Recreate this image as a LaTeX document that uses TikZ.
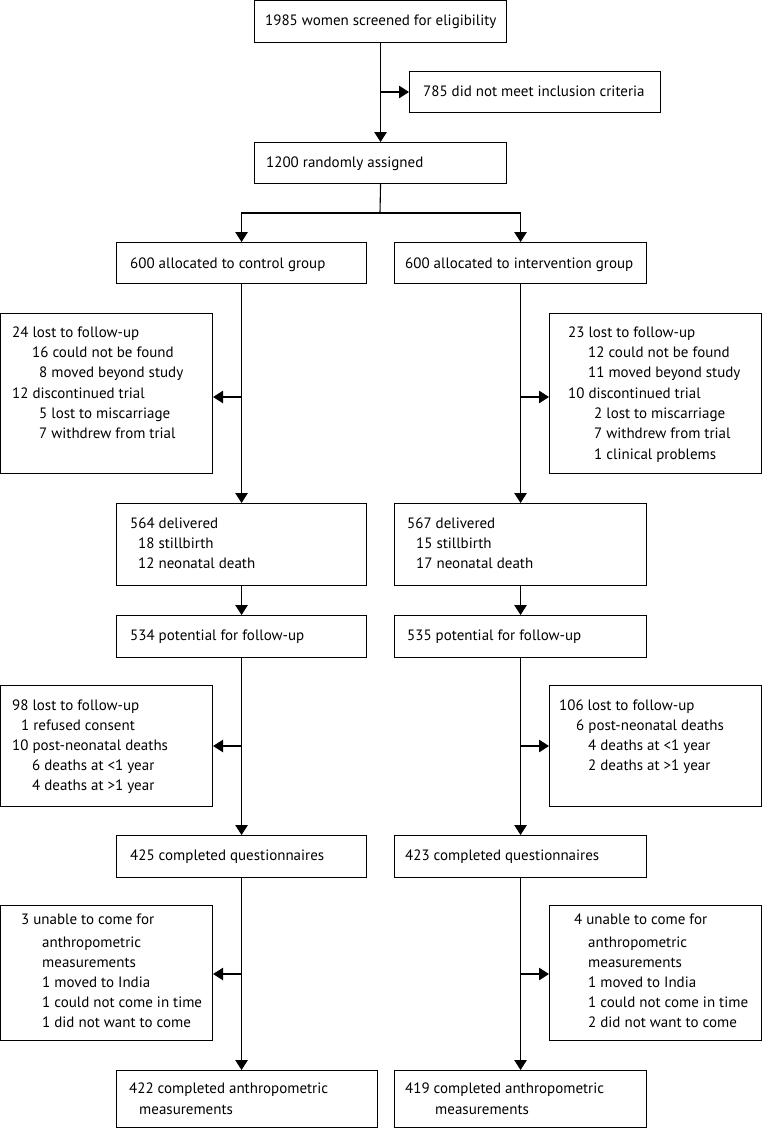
\documentclass[tikz,border=0pt]{standalone}
\usepackage{fontspec}
\setmainfont{PT Sans}
\usetikzlibrary{arrows.meta}
\newcommand\bx[5]{\node[box,minimum width={(#4-#2)*1pt},minimum height={(#5-#3)*1pt}] (#1) at (#2,#3) {};}
\newcommand\tl[4]{\node[txt] (#1) at (#2,#3+4.5) {#4};}
\begin{document}
\begin{tikzpicture}[x=1pt,y=-1pt,
 box/.style={draw,line width=1.1pt,inner sep=0pt,anchor=north west},
 txt/.style={anchor=base west,inner sep=0pt,font=\fontsize{15}{20}\selectfont},
 arr/.style={line width=1.1pt,-{Triangle[width=12.5pt,length=10pt]}},
 ln/.style={line width=1.1pt}]
\useasboundingbox (0,0) rectangle (761,1128);
% boxes
\bx{screen}{254}{0}{506}{42}
\bx{excl}{409}{71}{660}{112}
\bx{rand}{254}{142}{506}{183}
\bx{ctrl}{116}{242}{366}{283}
\bx{intv}{394}{242}{646}{283}
\bx{lossL}{0}{313}{212}{473}
\bx{lossR}{549}{313}{761}{473}
\bx{delL}{116}{503}{366}{585}
\bx{delR}{394}{503}{646}{585}
\bx{potL}{116}{615}{366}{657}
\bx{potR}{394}{615}{646}{657}
\bx{lfL}{0}{685}{212}{806}
\bx{lfR}{549}{685}{761}{806}
\bx{qL}{116}{835}{366}{877}
\bx{qR}{394}{835}{646}{877}
\bx{unL}{0}{905}{212}{1040}
\bx{unR}{549}{905}{761}{1040}
\bx{anL}{116}{1070}{377}{1127}
\bx{anR}{394}{1070}{646}{1127}
% texts
\tl{t1}{265}{21}{1985 women screened for eligibility}
\tl{t2}{423}{92}{785 did not meet inclusion criteria}
\tl{t3}{266}{163}{1200 randomly assigned}
\tl{t4}{130}{264}{600 allocated to control group}
\tl{t5}{405}{264}{600 allocated to intervention group}
\tl{t6a}{12}{333}{24 lost to follow-up}
\tl{t6b}{32}{353}{16 could not be found}
\tl{t6c}{39}{373}{8 moved beyond study}
\tl{t6d}{12}{394}{12 discontinued trial}
\tl{t6e}{39}{414}{5 lost to miscarriage}
\tl{t6f}{39}{434}{7 withdrew from trial}
\tl{t7a}{568}{333}{23 lost to follow-up}
\tl{t7b}{588}{353}{12 could not be found}
\tl{t7c}{588}{373}{11 moved beyond study}
\tl{t7d}{568}{394}{10 discontinued trial}
\tl{t7e}{594}{414}{2 lost to miscarriage}
\tl{t7f}{594}{434}{7 withdrew from trial}
\tl{t7g}{594}{455}{1 clinical problems}
\tl{t8a}{130}{524}{564 delivered}
\tl{t8b}{138}{544}{18 stillbirth}
\tl{t8c}{138}{564}{12 neonatal death}
\tl{t9a}{407}{524}{567 delivered}
\tl{t9b}{416}{544}{15 stillbirth}
\tl{t9c}{416}{564}{17 neonatal death}
\tl{t10}{130}{636}{534 potential for follow-up}
\tl{t11}{407}{636}{535 potential for follow-up}
\tl{t12a}{12}{706}{98 lost to follow-up}
\tl{t12b}{21}{726}{1 refused consent}
\tl{t12c}{12}{746}{10 post-neonatal deaths}
\tl{t12d}{32}{766}{6 deaths at <1 year}
\tl{t12e}{32}{786}{4 deaths at >1 year}
\tl{t13a}{559}{706}{106 lost to follow-up}
\tl{t13b}{576}{726}{6 post-neonatal deaths}
\tl{t13c}{588}{746}{4 deaths at <1 year}
\tl{t13d}{588}{766}{2 deaths at >1 year}
\tl{t14}{130}{856}{425 completed questionnaires}
\tl{t15}{405}{856}{423 completed questionnaires}
\tl{t16a}{21}{920}{3 unable to come for}
\tl{t16b}{42}{943}{anthropometric}
\tl{t16c}{42}{963}{measurements}
\tl{t16d}{42}{983}{1 moved to India}
\tl{t16e}{42}{1003}{1 could not come in time}
\tl{t16f}{42}{1023}{1 did not want to come}
\tl{t17a}{574}{920}{4 unable to come for}
\tl{t17b}{588}{943}{anthropometric}
\tl{t17c}{588}{963}{measurements}
\tl{t17d}{588}{983}{1 moved to India}
\tl{t17e}{588}{1003}{1 could not come in time}
\tl{t17f}{588}{1023}{2 did not want to come}
\tl{t18a}{129}{1089}{422 completed anthropometric}
\tl{t18b}{139}{1110}{measurements}
\tl{t19a}{405}{1089}{419 completed anthropometric}
\tl{t19b}{435}{1110}{measurements}
% connectors
\coordinate (j0) at (380,92);
\coordinate (split) at (380,213);
\coordinate (jL1) at (241,397);
\coordinate (jR1) at (520,397);
\coordinate (jL2) at (241,746);
\coordinate (jR2) at (520,746);
\coordinate (jL3) at (241,974);
\coordinate (jR3) at (520,974);
\draw[arr] (screen.south) -- (rand.north);
\draw[arr] (j0) -- (excl.west |- j0);
\draw[ln] (rand.south) -- (split);
\draw[arr] (split) -| (ctrl.north);
\draw[arr] (split) -| (intv.north);
\draw[arr] (ctrl.south) -- (delL.north);
\draw[arr] (intv.south) -- (delR.north);
\draw[arr] (jL1) -- (lossL.east |- jL1);
\draw[arr] (jR1) -- (lossR.west |- jR1);
\draw[arr] (delL.south) -- (potL.north);
\draw[arr] (delR.south) -- (potR.north);
\draw[arr] (potL.south) -- (qL.north);
\draw[arr] (potR.south) -- (qR.north);
\draw[arr] (jL2) -- (lfL.east |- jL2);
\draw[arr] (jR2) -- (lfR.west |- jR2);
\draw[arr] (qL.south) -- (qL.south |- anL.north);
\draw[arr] (qR.south) -- (anR.north);
\draw[arr] (jL3) -- (unL.east |- jL3);
\draw[arr] (jR3) -- (unR.west |- jR3);
\end{tikzpicture}
\end{document}
